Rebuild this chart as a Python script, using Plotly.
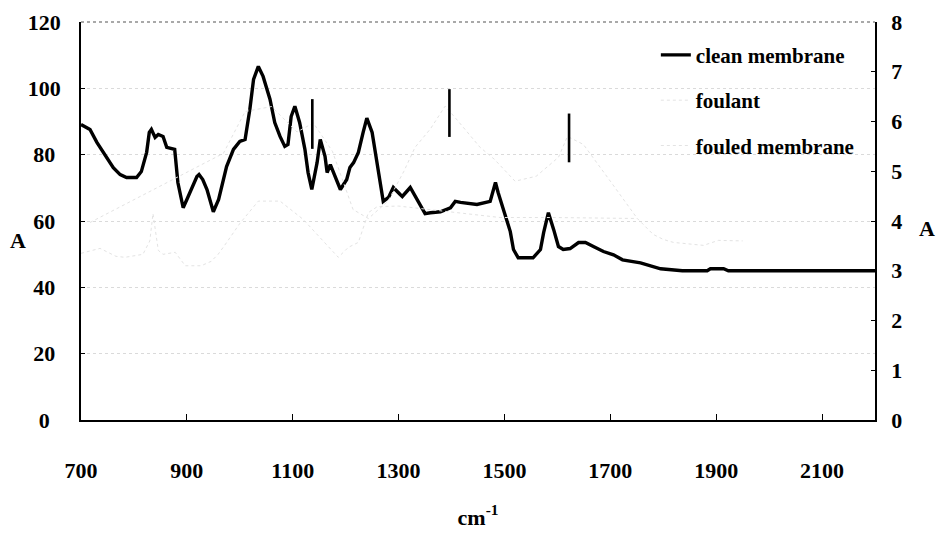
import plotly.graph_objects as go

# ---- FTIR spectra (wavenumber in cm-1) ----
# clean membrane, left axis
clean_wn = [700, 717, 730, 742, 761, 774, 786, 805, 814, 824, 829, 833, 840, 846, 855,
            862, 877, 883, 890, 893, 900, 908, 919, 923, 930, 938, 950, 960, 965, 975,
            988, 1000, 1010, 1019, 1026, 1035, 1044, 1057, 1066, 1076, 1085, 1091, 1097,
            1104, 1113, 1123, 1129, 1136, 1146, 1152, 1161, 1165, 1171, 1177, 1190, 1202,
            1208, 1215, 1224, 1233, 1240, 1250, 1259, 1271, 1281, 1290, 1303, 1307, 1322,
            1335, 1350, 1360, 1379, 1398, 1407, 1417, 1448, 1473, 1483, 1488, 1498, 1511,
            1517, 1526, 1554, 1568, 1574, 1583, 1593, 1602, 1611, 1624, 1640, 1653, 1668,
            1687, 1706, 1723, 1757, 1795, 1836, 1883, 1889, 1914, 1923, 2200]
clean_a = [89.1, 87.6, 83.7, 80.7, 76.1, 74.0, 73.1, 73.1, 74.9, 80.7, 86.7, 87.6, 85.2,
           86.1, 85.5, 82.2, 81.6, 71.6, 66.5, 64.0, 66.5, 69.5, 73.4, 74.0, 72.5, 69.5,
           62.8, 66.5, 70.1, 76.4, 81.6, 84.0, 84.6, 93.7, 102.7, 106.6, 103.6, 96.7, 89.7,
           85.5, 82.5, 83.1, 91.5, 94.6, 89.7, 81.6, 74.6, 69.5, 77.6, 84.6, 79.5, 74.6,
           77.0, 74.6, 69.5, 72.5, 76.1, 77.6, 80.7, 86.7, 91.0, 86.7, 77.6, 65.9, 67.1,
           70.1, 68.0, 67.4, 70.1, 66.5, 62.2, 62.5, 62.8, 64.0, 65.9, 65.6, 65.0, 65.9,
           71.6, 68.6, 63.5, 56.8, 51.4, 48.9, 48.9, 51.4, 56.5, 62.5, 57.4, 52.3, 51.4,
           51.7, 53.5, 53.5, 52.3, 50.8, 49.8, 48.3, 47.4, 45.6, 45.0, 45.0, 45.6, 45.6,
           45.0, 45.0]

# foulant, right axis
foulant_wn = [717, 969, 1010, 1060, 1108, 1139, 1175, 1190, 1214, 1243, 1280, 1310, 1331,
              1360, 1388, 1413, 1454, 1481, 1520, 1560, 1602, 1619, 1649, 1700, 1751]
foulant_a = [3.97, 5.36, 6.20, 6.30, 5.79, 5.97, 5.40, 4.94, 4.23, 4.05, 4.40, 5.00, 5.48,
             5.85, 6.31, 6.00, 5.48, 5.24, 4.80, 4.90, 5.28, 5.70, 5.54, 4.80, 4.05]

# fouled membrane, right axis
fouled_wn = [700, 736, 766, 783, 817, 830, 836, 846, 855, 878, 897, 927, 946, 959, 970, 1000,
             1035, 1076, 1120, 1186, 1205, 1224, 1243, 1260, 1300, 1492, 1596, 1751, 1781,
             1800, 1819, 1876, 1904, 1950]
fouled_a = [3.35, 3.45, 3.29, 3.27, 3.33, 3.60, 4.15, 3.41, 3.33, 3.37, 3.10, 3.10, 3.19,
            3.33, 3.49, 3.95, 4.40, 4.40, 4.03, 3.27, 3.47, 3.57, 4.17, 4.29, 4.30, 4.07,
            4.07, 4.05, 3.73, 3.63, 3.57, 3.51, 3.61, 3.60]

# marked foulant bands (centre and half-height, right axis)
band_wn = [1137, 1396, 1622]
band_a = [5.95, 6.17, 5.67]
band_half = [0.50, 0.48, 0.49]

x_ticks = [700, 900, 1100, 1300, 1500, 1700, 1900, 2100]
y_left_ticks = [0, 20, 40, 60, 80, 100, 120]
y_right_ticks = [0, 1, 2, 3, 4, 5, 6, 7, 8]

FONT = "Liberation Serif, Times New Roman, serif"
FAINT = "#e3e3e3"
NBSP = "\u00a0"

# left-axis labels centred in their column: one no-break space per missing digit
widest = max(len(str(v)) for v in y_left_ticks)
y_left_text = [str(v) + NBSP * (widest - len(str(v))) for v in y_left_ticks]

fig = go.Figure()
fig.add_trace(go.Scatter(
    x=clean_wn, y=clean_a, mode="lines", name="clean membrane",
    line=dict(color="black", width=3.4), legendgroup="a"))
fig.add_trace(go.Scatter(
    x=foulant_wn, y=foulant_a, mode="lines", name="foulant", yaxis="y2",
    line=dict(color=FAINT, width=1, dash="dot"), legendgroup="b"))
fig.add_trace(go.Scatter(
    x=fouled_wn, y=fouled_a, mode="lines", name="fouled membrane", yaxis="y2",
    line=dict(color=FAINT, width=1, dash="dot"), legendgroup="c"))
fig.add_trace(go.Scatter(
    x=band_wn, y=band_a, mode="markers", yaxis="y2", showlegend=False,
    hoverinfo="skip",
    marker=dict(size=1, color="rgba(0,0,0,0)"),
    error_y=dict(type="data", array=band_half, color="black", thickness=2.6, width=0)))

axis_font = dict(family=FONT, size=22, color="black", weight="bold")

fig.update_layout(
    width=936, height=534,
    margin=dict(l=81, r=61, t=22, b=114),
    paper_bgcolor="white", plot_bgcolor="white",
    font=dict(family=FONT, color="black"),
    showlegend=True,
    legend=dict(x=0.724, y=0.968, xanchor="left", yanchor="top",
                font=dict(family=FONT, size=21, color="black", weight="bold"),
                bgcolor="rgba(0,0,0,0)", traceorder="grouped", tracegroupgap=15,
                itemwidth=30),
    xaxis=dict(range=[700, 2200], tickvals=x_ticks, tickfont=axis_font,
               showline=True, linecolor="black", linewidth=1.5,
               ticks="inside", ticklen=6, tickcolor="black", tickwidth=1,
               showgrid=False, zeroline=False, ticklabelstandoff=30, automargin=False,
               title=dict(text="cm<sup>-1</sup>", font=axis_font, standoff=27)),
    yaxis=dict(range=[0, 120], tickvals=y_left_ticks, ticktext=y_left_text,
               tickfont=axis_font, automargin=False,
               showline=True, linecolor="black", linewidth=1.5,
               ticks="inside", ticklen=4, tickcolor="black",
               showgrid=True, gridcolor="#dadada", griddash="dot", gridwidth=1,
               zeroline=False, ticklabelstandoff=14),
    yaxis2=dict(range=[0, 8], tickvals=y_right_ticks, tickfont=axis_font,
                overlaying="y", side="right", automargin=False,
                showline=True, linecolor="black", linewidth=1.5,
                ticks="inside", ticklen=4, tickcolor="black",
                showgrid=False, zeroline=False, ticklabelstandoff=10),
    shapes=[dict(type="line", xref="paper", yref="paper", x0=0, x1=1, y0=1, y1=1,
                 line=dict(color="#555555", width=1.2, dash="dot"))],
    annotations=[
        dict(text="A", xref="paper", yref="paper", x=-0.079, y=0.452, showarrow=False,
             font=axis_font, xanchor="center", yanchor="middle"),
        dict(text="A", xref="paper", yref="paper", x=1.0655, y=0.482, showarrow=False,
             font=axis_font, xanchor="center", yanchor="middle"),
    ],
)

fig.write_html("out.html")
